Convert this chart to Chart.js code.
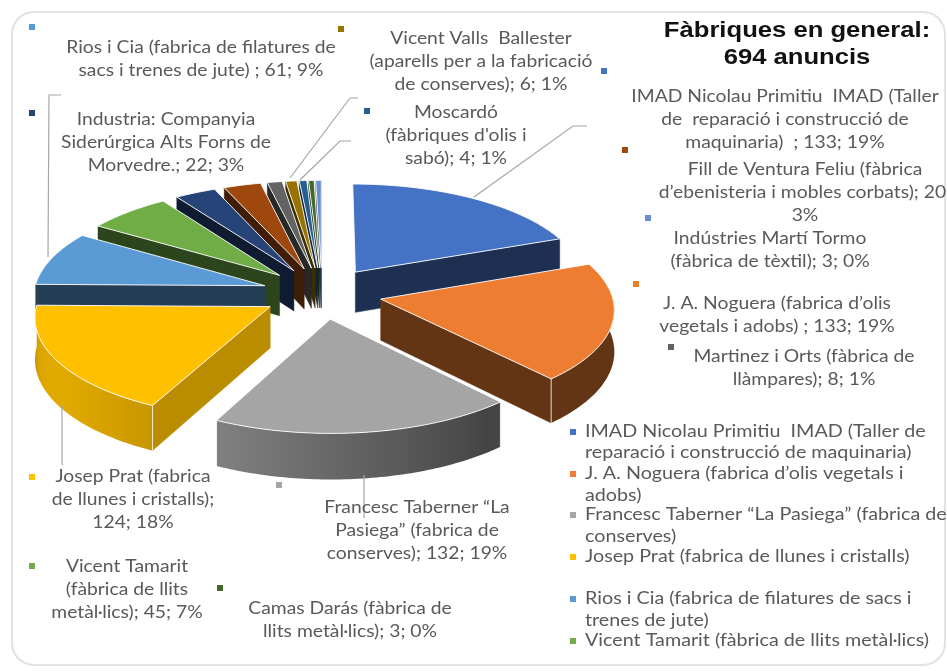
<!DOCTYPE html>
<html><head><meta charset="utf-8">
<style>html,body{margin:0;padding:0;background:#fff;overflow:hidden}#w{position:relative;width:947px;height:671px}canvas{filter:blur(.45px)}</style>
<script src="https://cdn.jsdelivr.net/npm/chart.js@4"></script>
</head><body><div id="w"><canvas id="c" width="947" height="671"></canvas></div>
<script>
const categories = ["IMAD Nicolau Primitiu  IMAD (Taller de  reparació i construcció de maquinaria)","J. A. Noguera (fabrica d’olis vegetals i adobs)","Francesc Taberner “La Pasiega” (fabrica de conserves)","Josep Prat (fabrica de llunes i cristalls)","Rios i Cia (fabrica de filatures de sacs i trenes de jute)","Vicent Tamarit (fàbrica de llits metàl·lics)","Industria: Companyia Siderúrgica Alts Forns de Morvedre.","Fill de Ventura Feliu (fàbrica d’ebenisteria i mobles corbats)","Martinez i Orts (fàbrica de llàmpares)","Vicent Valls  Ballester (aparells per a la fabricació de conserves)","Moscardó (fàbriques d'olis i sabó)","Camas Darás (fàbrica de llits metàl·lics)","Indústries Martí Tormo (fàbrica de tèxtil)"];
const values = [133,133,132,124,61,45,22,20,8,6,4,3,3];
const colors = ["#4472c4","#ed7d31","#a5a5a5","#ffc000","#5b9bd5","#70ad47","#264478","#9e480e","#636363","#997300","#255e91","#43682b","#698ed0"];
const titleLines = ["Fàbriques en general:","694 anuncis"];
// data labels: marker colour index, marker position, text centre x, first line centre y, lines
const dataLabels = [
 {i:4,m:[32,27],cx:201,y:48,lines:["Rios i Cia (fabrica de filatures de","sacs i trenes de jute) ; 61; 9%"]},
 {i:9,m:[341,29],cx:481,y:39,lines:["Vicent Valls  Ballester","(aparells per a la fabricació","de conserves); 6; 1%"]},
 {i:0,m:[604,71],cx:785,y:97,lines:["IMAD Nicolau Primitiu  IMAD (Taller","de  reparació i construcció de","maquinaria)  ; 133; 19%"]},
 {i:6,m:[32,113],cx:166,y:120,lines:["Industria: Companyia","Siderúrgica Alts Forns de","Morvedre.; 22; 3%"]},
 {i:10,m:[367,111],cx:456,y:113,lines:["Moscardó","(fàbriques d'olis i","sabó); 4; 1%"]},
 {i:7,m:[625,150],cx:805,y:170,lines:["Fill de Ventura Feliu (fàbrica","d’ebenisteria i mobles corbats); 20;","3%"]},
 {i:12,m:[648,218],cx:770,y:239,lines:["Indústries Martí Tormo","(fàbrica de tèxtil); 3; 0%"]},
 {i:1,m:[636,284],cx:777,y:304,lines:["J. A. Noguera (fabrica d’olis","vegetals i adobs) ; 133; 19%"]},
 {i:8,m:[671,347],cx:804,y:357,lines:["Martinez i Orts (fàbrica de","llàmpares); 8; 1%"]},
 {i:3,m:[32,477],cx:133,y:477,lines:["Josep Prat (fabrica","de llunes i cristalls);","124; 18%"]},
 {i:2,m:[279,485],cx:417,y:508,lines:["Francesc Taberner “La","Pasiega” (fabrica de","conserves); 132; 19%"]},
 {i:5,m:[32,566],cx:127,y:567,lines:["Vicent Tamarit","(fàbrica de llits","metàl·lics); 45; 7%"]},
 {i:11,m:[220,588],cx:350,y:609,lines:["Camas Darás (fàbrica de","llits metàl·lics); 3; 0%"]}
];
const legendRows = [
 {i:0,y:[432,453],lines:["IMAD Nicolau Primitiu  IMAD (Taller de","reparació i construcció de maquinaria)"]},
 {i:1,y:[474,496],lines:["J. A. Noguera (fabrica d’olis vegetals i","adobs)"]},
 {i:2,y:[515,537],lines:["Francesc Taberner “La Pasiega” (fabrica de","conserves)"]},
 {i:3,y:[557],lines:["Josep Prat (fabrica de llunes i cristalls)"]},
 {i:4,y:[599,621],lines:["Rios i Cia (fabrica de filatures de sacs i","trenes de jute)"]},
 {i:5,y:[641],lines:["Vicent Tamarit (fàbrica de llits metàl·lics)"]}
];
const leaders = [
 [[474,197],[573,126],[587,126]],
 [[290,178],[350,98],[358,98]],
 [[300,180],[340,141],[351,141]],
 [[61,95],[49,95],[48,257]],
 [[62,405],[62,465]],
 [[364,475],[364,518]]
];
const PITCH=0.43, PERSP=0.00038, DEPTH=41, LABEL_FONT='17px Lato', XS=1.135, LEGEND_XS=1.16;

function proj(cx,cy,u,v,z){
  const s=1/(1+PERSP*v);
  return [cx+s*u, cy-s*PITCH*v+s*z];
}
function shade(hex,f){
  const n=parseInt(hex.slice(1),16);
  return `rgb(${Math.round((n>>16&255)*f)},${Math.round((n>>8&255)*f)},${Math.round((n&255)*f)})`;
}
function outerShade(d){
  if(d<138) return .42;
  if(d<=206.5) return .39+(d-138)/68.5*.39;
  return .78+.1*Math.sin((d-206.5)/64*Math.PI);
}
function poly(ctx,pts,fill,stroke,lw){
  ctx.beginPath();pts.forEach((p,i)=>i?ctx.lineTo(p[0],p[1]):ctx.moveTo(p[0],p[1]));ctx.closePath();
  if(fill){ctx.fillStyle=fill;ctx.fill();}
  if(stroke){ctx.strokeStyle=stroke;ctx.lineWidth=lw||1;ctx.stroke();}
}
const pie3d={id:'pie3d',
 beforeDraw(chart){
  const ctx=chart.ctx;ctx.save();
  ctx.fillStyle='#fff';ctx.fillRect(0,0,947,671);
  ctx.strokeStyle='#e2e2e2';ctx.lineWidth=2;
  ctx.beginPath();ctx.roundRect(12,12,933,653,22);ctx.stroke();
  ctx.restore();
 },
 beforeDatasetsDraw(chart){
  const ctx=chart.ctx, meta=chart.getDatasetMeta(0);
  const items=meta.data.map((el,i)=>{
    const a0=el.startAngle+Math.PI/2,a1=el.endAngle+Math.PI/2,mid=(a0+a1)/2,off=el.options.offset;
    return {el,i,a0,a1,ou:off*Math.sin(mid),ov:off*Math.cos(mid)};
  }).sort((p,q)=>q.ov-p.ov);
  ctx.save();
  for(const it of items){
    const {el,i,a0,a1,ou,ov}=it,R=el.outerRadius,cx=el.x,cy=el.y,col=colors[i];
    const rim=a=>[ou+R*Math.sin(a),ov+R*Math.cos(a)];
    const P=(uv,z)=>proj(cx,cy,uv[0],uv[1],z);
    const apex=[ou,ov];
    const deg0=a0*180/Math.PI,deg1=a1*180/Math.PI;
    if(Math.sin(a0)<0){
      const r=rim(a0),f=deg0<240?.73:.4;
      poly(ctx,[P(apex,0),P(r,0),P(r,DEPTH),P(apex,DEPTH)],shade(col,f),shade(col,f),.5);
    }
    if(Math.sin(a1)>0){
      const r=rim(a1),f=.42;
      poly(ctx,[P(apex,0),P(r,0),P(r,DEPTH),P(apex,DEPTH)],shade(col,f),shade(col,f),.5);
    }
    // outer curved wall, one path with a horizontal gradient
    const w0=Math.max(a0,Math.PI/2-.12),w1=Math.min(a1,Math.PI*1.5+.02);
    if(w1>w0){
      const step=Math.PI/180,top=[],bot=[];
      for(let a=w0;a<w1;a+=step){top.push(P(rim(a),0));bot.unshift(P(rim(a),DEPTH));}
      top.push(P(rim(w1),0));bot.unshift(P(rim(w1),DEPTH));
      const xs=top.map(p=>p[0]),xa=Math.min(...xs),xb=Math.max(...xs);
      const g=ctx.createLinearGradient(xa,0,xb,0);
      top.forEach((p,k)=>{
        if(k%4===0||k===top.length-1){
          const ang=(k===top.length-1?w1:w0+k*step)*180/Math.PI;
          g.addColorStop(xb>xa?(p[0]-xa)/(xb-xa):0,shade(col,outerShade(ang)));
        }
      });
      poly(ctx,top.concat(bot),g,null);
    }
    for(const a of [a0,a1]){
      if(Math.cos(a)<0.1&&a>Math.PI/2&&a<Math.PI*1.3&&deg1-deg0>30){
        const r=rim(a),p=P(r,0),q=P(r,DEPTH);
        ctx.beginPath();ctx.moveTo(p[0],p[1]);ctx.lineTo(q[0],q[1]);ctx.strokeStyle='rgba(255,255,255,.8)';ctx.lineWidth=1;ctx.stroke();
      }
    }
    const pts=[P(apex,0)];
    const n=Math.max(2,Math.ceil((a1-a0)*180/Math.PI));
    for(let k=0;k<=n;k++)pts.push(P(rim(a0+(a1-a0)*k/n),0));
    poly(ctx,pts,col,'rgba(255,255,255,.9)',1);
  }
  ctx.restore();
  return false;
 },
 afterDraw(chart){
  const ctx=chart.ctx;ctx.save();
  ctx.strokeStyle='#a6a6a6';ctx.lineWidth=1.2;
  leaders.forEach(l=>{ctx.beginPath();l.forEach((p,i)=>i?ctx.lineTo(p[0],p[1]):ctx.moveTo(p[0],p[1]));ctx.stroke();});
  ctx.textBaseline='middle';
  const txt=(s,x,y,align,font,col,xs)=>{
    ctx.save();ctx.translate(x,y);ctx.scale(xs,1);ctx.font=font;ctx.fillStyle=col;ctx.textAlign=align;ctx.fillText(s,0,0);ctx.restore();
  };
  txt(titleLines[0],797,31,'center','bold 22px "Liberation Sans"','#111',1.165);
  txt(titleLines[1],797,58,'center','bold 22px "Liberation Sans"','#111',1.165);
  dataLabels.forEach(d=>{
    ctx.fillStyle=colors[d.i];ctx.fillRect(d.m[0]-3,d.m[1]-3,6,6);
    d.lines.forEach((s,k)=>txt(s,d.cx,d.y+k*23,'center',LABEL_FONT,'#595959',XS));
  });
  legendRows.forEach(r=>{
    ctx.fillStyle=colors[r.i];ctx.fillRect(570,r.y[0]-3,6,6);
    r.lines.forEach((s,k)=>txt(s,585,r.y[k],'left',LABEL_FONT,'#595959',LEGEND_XS));
  });
  ctx.restore();
 }
};
new Chart(document.getElementById('c'),{
 type:'pie',
 data:{labels:categories,datasets:[{data:values,backgroundColor:colors,offset:60,borderWidth:0}]},
 options:{responsive:false,animation:false,radius:231,
  layout:{padding:{left:0,right:303,top:0,bottom:85}},
  plugins:{legend:{display:false},tooltip:{enabled:false},title:{display:false}}},
 plugins:[pie3d]
});
</script></body></html>
